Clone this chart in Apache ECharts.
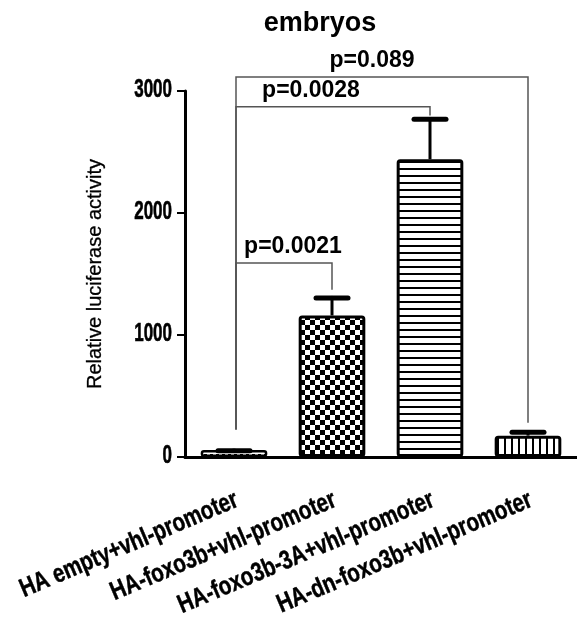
<!DOCTYPE html>
<html><head><meta charset="utf-8">
<script src="https://cdn.jsdelivr.net/npm/echarts@6/dist/echarts.min.js"></script>
<style>html,body{margin:0;padding:0;background:#fff}#c{width:577px;height:628px}</style>
</head><body><div id="c"></div>
<script>
var categories = ['HA empty+vhl-promoter','HA-foxo3b+vhl-promoter','HA-foxo3b-3A+vhl-promoter','HA-dn-foxo3b+vhl-promoter'];
var means = [58, 1160, 2440, 175];
var errors = [10, 160, 345, 45];
var yTicks = [0, 1000, 2000, 3000];
// brackets: [leftCat, rightCat, barLevel, leftEnd, rightEnd]
var brackets = [[0, 1, 1590, 225, 1370], [0, 2, 2870, 225, 2800], [0, 3, 3115, 225, 280]];
var pLabels = ['p=0.0021', 'p=0.0028', 'p=0.089'];

// layout constants (pixel offsets of p-labels from bracket centre)
var pLabelDx = [9, -22, -10];

function pat(kind){
  var c = document.createElement('canvas');
  var g = c.getContext('2d');
  if(kind==='checker'){c.width=10;c.height=10;g.fillStyle='#fff';g.fillRect(0,0,10,10);g.fillStyle='#000';g.fillRect(0,0,5,5);g.fillRect(5,5,5,5);}
  else if(kind==='hz'){c.width=7;c.height=7;g.fillStyle='#fff';g.fillRect(0,0,7,7);g.fillStyle='#000';g.fillRect(0,0,7,2);}
  else if(kind==='vt'){c.width=7;c.height=7;g.fillStyle='#fff';g.fillRect(0,0,7,7);g.fillStyle='#000';g.fillRect(0,0,2,7);}
  else {c.width=6;c.height=4;g.fillStyle='#fff';g.fillRect(0,0,6,4);g.fillStyle='#000';g.fillRect(0,2,3,1);}
  return {image:c, repeat:'repeat'};
}
var pats = [pat('dash'), pat('checker'), pat('hz'), pat('vt')];

var sans = '"Liberation Sans", Arial, sans-serif';
var chart = echarts.init(document.getElementById('c'));
chart.setOption({
  animation:false,
  graphic:[{type:'text', x:320, y:10, style:{text:'embryos', fill:'#000', font:'bold 27px ' + sans, align:'center', verticalAlign:'top'}}],
  grid:{left:185, right:0, top:91, bottom:171, containLabel:false},
  xAxis:{type:'category', data:categories,
    axisLine:{lineStyle:{color:'#000', width:3}},
    axisTick:{alignWithLabel:true, length:9, lineStyle:{color:'#000', width:2}},
    axisLabel:{show:false}},
  yAxis:{type:'value', min:0, max:3000, interval:1000,
    name:'Relative luciferase activity', nameLocation:'middle', nameGap:80,
    nameTextStyle:{fontFamily:sans, fontSize:20, color:'#000', textBorderColor:'#000', textBorderWidth:0.3},
    axisLine:{show:true, lineStyle:{color:'#000', width:3}},
    axisTick:{show:true, length:8, lineStyle:{color:'#000', width:2}},
    splitLine:{show:false},
    axisLabel:{show:false}},
  series:[
    {type:'bar', barWidth:'68%', z:2,
      data:means.map(function(v,i){return {value:v, itemStyle:{color:pats[i], borderColor:'#000', borderWidth:i===0?2.5:3, borderRadius:2}};})},
    {type:'custom', z:3, clip:false,
      data:means.map(function(v,i){return [i, v, v+errors[i]];}),
      renderItem:function(params, api){
        var b = api.coord([api.value(0), api.value(1)]);
        var t = api.coord([api.value(0), api.value(2)]);
        return {type:'group', children:[
          {type:'line', shape:{x1:b[0], y1:b[1], x2:t[0], y2:t[1]}, style:{stroke:'#000', lineWidth:3}},
          {type:'line', shape:{x1:t[0]-16, y1:t[1]+2, x2:t[0]+16, y2:t[1]+2}, style:{stroke:'#000', lineWidth:5, lineCap:'round'}}
        ]};
      }},
    {type:'custom', z:1, clip:false,
      data:brackets,
      renderItem:function(params, api){
        var l = api.coord([api.value(0), api.value(2)]);
        var r = api.coord([api.value(1), api.value(2)]);
        var le = api.coord([api.value(0), api.value(3)]);
        var re = api.coord([api.value(1), api.value(4)]);
        var lx = l[0]+2;
        return {type:'group', children:[
          {type:'polyline', shape:{points:[[lx, le[1]], [lx, l[1]], [r[0], r[1]], [r[0], re[1]]]}, style:{stroke:'#555', lineWidth:1.5, fill:null}},
          {type:'text', x:(lx+r[0])/2 + pLabelDx[params.dataIndex], y:l[1]-5, style:{text:pLabels[params.dataIndex], fill:'#000', font:'bold 23px ' + sans, align:'center', verticalAlign:'bottom'}}
        ]};
      }},
    // y tick labels (condensed)
    {type:'custom', z:4, clip:false,
      data:yTicks.map(function(v){return [0, v];}),
      renderItem:function(params, api){
        var p = api.coord([0, api.value(1)]);
        var x0 = params.coordSys.x - 13;
        return {type:'text', x:x0, y:p[1]-1, scaleX:0.68, style:{text:String(yTicks[params.dataIndex]), fill:'#000', stroke:'#000', lineWidth:0.6, font:'bold 25px ' + sans, align:'right', verticalAlign:'middle'}};
      }},
    // x category labels (condensed, rotated)
    {type:'custom', z:4, clip:false,
      data:categories.map(function(c,i){return [i, 0];}),
      renderItem:function(params, api){
        var p = api.coord([api.value(0), 0]);
        return {type:'text', x:p[0]+3, y:p[1]+42, rotation:23*Math.PI/180, scaleX:0.79, style:{text:categories[params.dataIndex], fill:'#000', stroke:'#000', lineWidth:0.5, font:'bold 26px ' + sans, align:'right', verticalAlign:'middle'}};
      }}
  ]
});
</script></body></html>
